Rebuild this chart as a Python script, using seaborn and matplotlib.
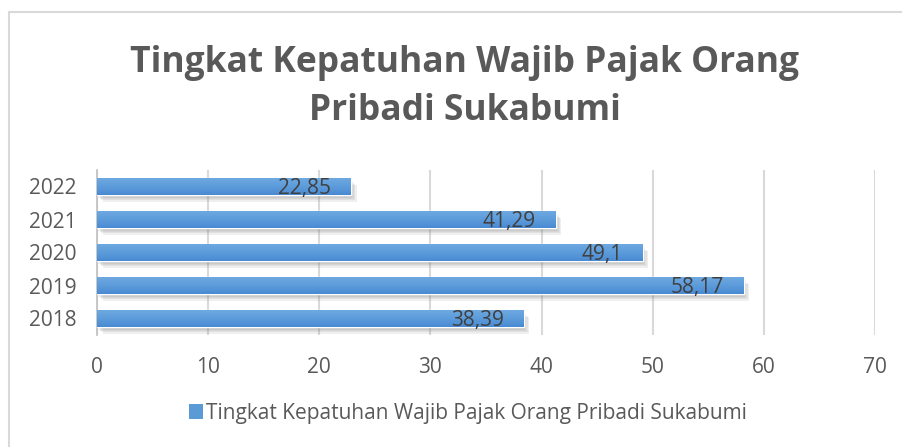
import numpy as np
import pandas as pd
import seaborn as sns
import matplotlib.pyplot as plt
import matplotlib.patheffects as pe
from matplotlib.lines import Line2D
from matplotlib.patches import Patch
from matplotlib.colors import LinearSegmentedColormap

years = ['2022', '2021', '2020', '2019', '2018']
values = [22.85, 41.29, 49.1, 58.17, 38.39]
series_name = 'Tingkat Kepatuhan Wajib Pajak Orang Pribadi Sukabumi'
title_lines = ['Tingkat Kepatuhan Wajib Pajak Orang', 'Pribadi Sukabumi']

df = pd.DataFrame({'Tahun': years, 'Nilai': values})

sns.set_style('white')
plt.rcParams['font.family'] = ['Open Sans', 'DejaVu Sans']

W, H = 903, 447
fig = plt.figure(figsize=(W / 100, H / 100), dpi=100)
ax = fig.add_axes([97 / W, 1 - 335 / H, (875 - 97) / W, 165 / H])

blue = '#5B9BD5'
sns.barplot(data=df, x='Nilai', y='Tahun', order=years, orient='h',
            color=blue, width=0.5, saturation=1, ax=ax, zorder=3)

# gradient + soft blurred shadow like the office chart
grad = LinearSegmentedColormap.from_list('g', ['#4A8AD2', '#5C9CDB', '#6DA8E0'])
shadow = [pe.SimplePatchShadow(offset=(1 + d, -2 - d), shadow_rgbFace='#808080', alpha=0.12)
          for d in (0, 1, 2, 3)]
for bar in ax.patches:
    bar.set_path_effects(shadow + [pe.Normal()])
    x0, y0 = bar.get_x(), bar.get_y()
    w, h = bar.get_width(), bar.get_height()
    im = ax.imshow(np.linspace(0, 1, 50).reshape(-1, 1), cmap=grad, aspect='auto',
                   extent=[x0, x0 + w, y0, y0 + h], zorder=4)
    im.set_clip_path(bar)

ax.set_xlim(0, 70)
ax.set_ylim(4.5, -0.5)
ax.set_xticks(range(0, 71, 10))
ax.set_xlabel('')
ax.set_ylabel('')
ax.grid(axis='x', color='#D9D9D9', lw=1.5, zorder=0)
ax.set_axisbelow(True)
for s in ['top', 'right', 'bottom']:
    ax.spines[s].set_visible(False)
ax.spines['left'].set_color('#BFBFBF')
ax.spines['left'].set_linewidth(1.2)
ax.tick_params(axis='both', length=0, labelsize=15, labelcolor='#595959')
ax.tick_params(axis='x', pad=16)
ax.tick_params(axis='y', pad=15)

for i, v in enumerate(values):
    ax.annotate(str(v).replace('.', ','), xy=(v, i), xytext=(-20, -2),
                textcoords='offset pixels', ha='right', va='center',
                fontsize=15, color='#404040', zorder=6)

for k, line in enumerate(title_lines):
    fig.text(465 / W, 1 - (63 + 48 * k) / H, line, ha='center', va='center',
             fontsize=25.5, fontweight='bold', color='#595959')

fig.legend(handles=[Patch(facecolor=blue, edgecolor='none', label=series_name)],
           loc='center', bbox_to_anchor=(468 / W, 1 - 413 / H), frameon=False,
           fontsize=15, labelcolor='#595959', handlelength=0.7, handleheight=0.7,
           handletextpad=0.15)

# chart area border (left and top edges visible)
fig.add_artist(Line2D([9 / W, 9 / W], [0, 1 - 12 / H], color='#D9D9D9', lw=1.5))
fig.add_artist(Line2D([9 / W, 1], [1 - 12 / H, 1 - 12 / H], color='#D9D9D9', lw=1.5))

fig.savefig('out.png', dpi=100)
